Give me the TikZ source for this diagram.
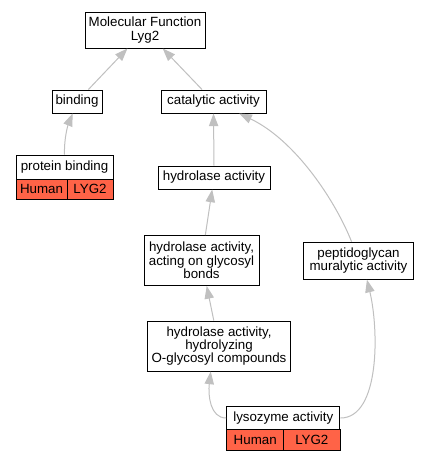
\documentclass[tikz,border=0pt]{standalone}
\usepackage{fontspec}
\setmainfont{Liberation Sans}
\usetikzlibrary{arrows.meta}
\definecolor{edgegray}{HTML}{C0C0C0}
\definecolor{tomato}{HTML}{FF6347}
\tikzset{
  term/.style={draw=black, line width=0.75pt, fill=white, inner sep=0pt, align=center,
    font=\fontsize{10}{10}\selectfont},
  cell/.style={term, fill=tomato},
  edge/.style={draw=edgegray, line width=0.75pt, -{Triangle[length=9.5pt,width=7pt]}},
}
\begin{document}
\begin{tikzpicture}[x=0.75pt, y=-0.75pt]
\useasboundingbox[fill=white] (0,0) rectangle (429,461);
% nodes
\node[term, minimum width=90pt, minimum height=27pt] (mf) at (145,30) {Molecular Function\\Lyg2};
\node[term, minimum width=37.5pt, minimum height=17.25pt] (bind) at (77,101.5) {binding};
\node[term, minimum width=78.75pt, minimum height=17.25pt] (cat) at (213.5,101.5) {catalytic activity};
\node[term, minimum width=72.75pt, minimum height=18pt] (pb) at (64.5,167) {protein binding};
\node[cell, minimum width=38.25pt, minimum height=15pt] (pbh) at (41.5,189) {Human};
\node[cell, minimum width=34.5pt, minimum height=15pt] (pbl) at (90,189) {LYG2};
\node[term, minimum width=84pt, minimum height=17.25pt] (hyd) at (214,177.5) {hydrolase activity};
\node[term, minimum width=86.25pt, minimum height=37.5pt] (act) at (201.5,260.5) {hydrolase activity,\\acting on glycosyl\\bonds};
\node[term, minimum width=82.5pt, minimum height=27.75pt] (pep) at (358.5,260.7) {peptidoglycan\\muralytic activity};
\node[term, minimum width=107.25pt, minimum height=37.5pt] (hyo) at (219,346) {hydrolase activity,\\hydrolyzing\\O-glycosyl compounds};
\node[term, minimum width=85pt, minimum height=17pt] (lys) at (283.3,418) {lysozyme activity};
\node[cell, minimum width=42.75pt, minimum height=16pt] (lysh) at (255.2,440) {Human};
\node[cell, minimum width=42.25pt, minimum height=16pt] (lysl) at (311.85,440) {LYG2};
% edges
\draw[edge] (bind) -- (mf);
\draw[edge] (cat) -- (mf);
\draw[edge] (pb.north) .. controls (64,138) and (68,125) .. (bind.250);
\draw[edge] (hyd.north) -- (cat.south);
\draw[edge] (act) -- (hyd);
\draw[edge] (hyo) -- (act);
\draw[edge] (pep.110) .. controls (335,200) and (295,140) .. (cat.335);
\draw[edge] (lys.west) .. controls (210,418) and (208,395) .. (hyo.252);
\draw[edge] (lys.east) .. controls (380,418) and (379,330) .. (pep.294);
\end{tikzpicture}
\end{document}
